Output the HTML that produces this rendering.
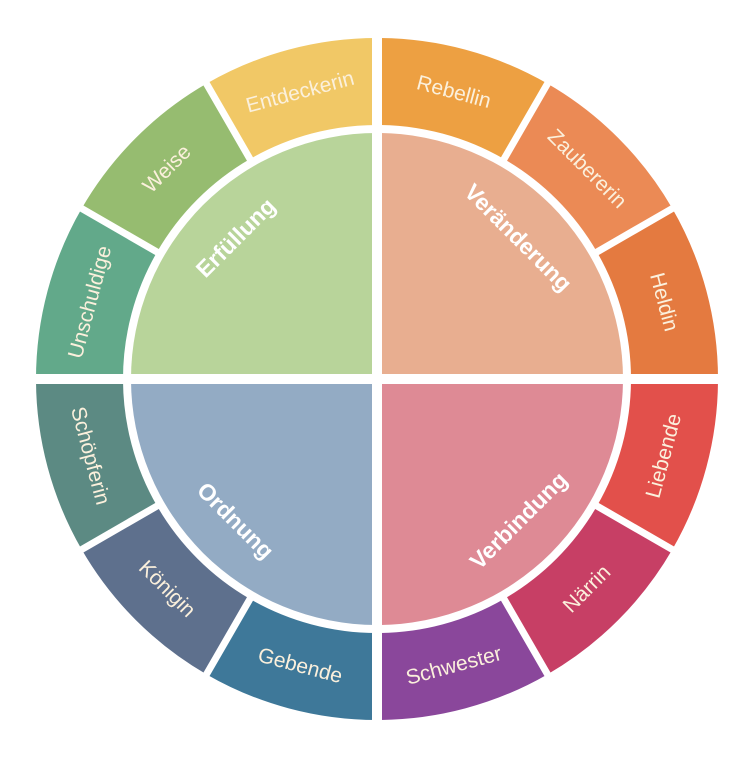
<!DOCTYPE html>
<html><head><meta charset="utf-8"><style>
html,body{margin:0;padding:0;background:#fff;}
svg{display:block;}
text{font-family:"Liberation Sans",sans-serif;}
</style></head><body>
<svg id="s" width="756" height="759" viewBox="0 0 756 759" xmlns="http://www.w3.org/2000/svg"></svg>
<script>
const cx=377,cy=379,R1=341,R0=254,RQ=246;
const ring=[["Rebellin","#EDA042"],["Zaubererin","#EB8A55"],["Heldin","#E47A40"],["Liebende","#E2504B"],["Närrin","#C73F65"],["Schwester","#8A479B"],["Gebende","#3E7899"],["Königin","#5E708D"],["Schöpferin","#5C8A83"],["Unschuldige","#62A98A"],["Weise","#96BC70"],["Entdeckerin","#F1C866"]];
const quads=[["Veränderung","#E8AE90",45],["Verbindung","#DE8A95",135],["Ordnung","#93ABC4",225],["Erfüllung","#B8D49A",315]];
function pt(r,a){a=a*Math.PI/180;return [cx+r*Math.sin(a),cy-r*Math.cos(a)];}
let h="";
ring.forEach((s,i)=>{const a0=i*30,a1=a0+30;
 const p1=pt(R1,a0),p2=pt(R1,a1),p3=pt(R0,a1),p4=pt(R0,a0);
 h+=`<path d="M${p1} A${R1} ${R1} 0 0 1 ${p2} L${p3} A${R0} ${R0} 0 0 0 ${p4}Z" fill="${s[1]}"/>`;});
quads.forEach((q,i)=>{const a0=i*90,a1=a0+90;const p1=pt(RQ,a0),p2=pt(RQ,a1);
 h+=`<path d="M${cx},${cy} L${p1} A${RQ} ${RQ} 0 0 1 ${p2}Z" fill="${q[1]}"/>`;});
for(let i=0;i<12;i++){const a=i*30;const p=pt(R1+5,a);const axis=(i%3==0);const w=axis?10:7;
 const q=axis?[cx,cy]:pt(R0-6,a);
 h+=`<line x1="${q[0]}" y1="${q[1]}" x2="${p[0]}" y2="${p[1]}" stroke="#fff" stroke-width="${w}"/>`;}
ring.forEach((s,i)=>{const a=i*30+15;const p=pt(297,a);const rot=(a<90||a>270)?(a>270?a-360:a):a-180;
 h+=`<text x="${p[0]}" y="${p[1]}" transform="rotate(${rot} ${p[0]} ${p[1]})" text-anchor="middle" dominant-baseline="central" font-size="21" fill="#FBF0DC">${s[0]}</text>`;});
quads.forEach(q=>{const a=q[2];const p=pt(200,a);const rot=(a<90||a>270)?(a>270?a-360:a):a-180;
 h+=`<text x="${p[0]}" y="${p[1]}" transform="rotate(${rot} ${p[0]} ${p[1]})" text-anchor="middle" dominant-baseline="central" font-size="23" font-weight="bold" fill="#fff">${q[0]}</text>`;});
document.getElementById("s").innerHTML=h;
</script>
</body></html>
